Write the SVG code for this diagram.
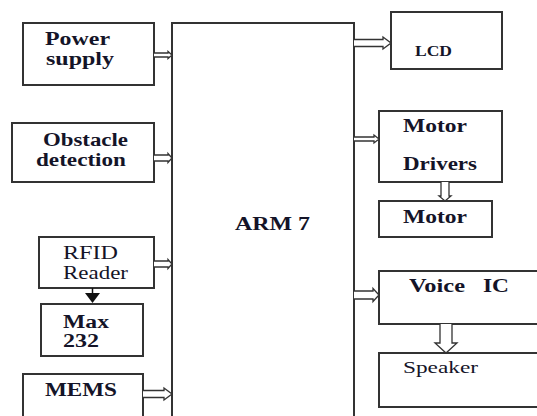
<svg xmlns="http://www.w3.org/2000/svg" width="537" height="416" viewBox="0 0 537 416">
<style>
.box{fill:#fff;stroke:#333;stroke-width:2}
.arr{fill:#fff;stroke:#333;stroke-width:1.3;stroke-linejoin:miter}
.b{font-weight:bold;fill:#141428}
.r{fill:#141428}
</style>
<rect width="537" height="416" fill="#fff"/>
<g font-family="Liberation Serif, Times New Roman, serif">
<g id="arm7"><rect class="box" x="172" y="23" width="182" height="410"/>
<text class="b" x="235" y="230" font-size="18" textLength="75" lengthAdjust="spacingAndGlyphs">ARM 7</text></g>
<g id="power"><rect class="box" x="23" y="23" width="131" height="62"/>
<text class="b" x="45" y="45" font-size="18" textLength="65" lengthAdjust="spacingAndGlyphs">Power</text>
<text class="b" x="46" y="65" font-size="18" textLength="68" lengthAdjust="spacingAndGlyphs">supply</text></g>
<g id="obstacle"><rect class="box" x="12" y="123" width="142" height="59"/>
<text class="b" x="43" y="146" font-size="18" textLength="85" lengthAdjust="spacingAndGlyphs">Obstacle</text>
<text class="b" x="36" y="166" font-size="18" textLength="90" lengthAdjust="spacingAndGlyphs">detection</text></g>
<g id="rfid"><rect class="box" x="39" y="237" width="115" height="51"/>
<text class="r" x="63" y="259" font-size="18" textLength="55" lengthAdjust="spacingAndGlyphs">RFID</text>
<text class="r" x="63" y="279" font-size="18" textLength="65" lengthAdjust="spacingAndGlyphs">Reader</text></g>
<g id="max232"><rect class="box" x="41" y="304" width="102" height="52"/>
<text class="b" x="63" y="328" font-size="18" textLength="46" lengthAdjust="spacingAndGlyphs">Max</text>
<text class="b" x="63" y="347" font-size="18" textLength="36" lengthAdjust="spacingAndGlyphs">232</text></g>
<g id="mems"><rect class="box" x="23" y="374" width="120" height="60"/>
<text class="b" x="45" y="396" font-size="18" textLength="72" lengthAdjust="spacingAndGlyphs">MEMS</text></g>
<g id="lcd"><rect class="box" x="391" y="12" width="111" height="57"/>
<text class="b" x="415" y="56" font-size="14" textLength="37" lengthAdjust="spacingAndGlyphs">LCD</text></g>
<g id="motordrivers"><rect class="box" x="379" y="111" width="123" height="71"/>
<text class="b" x="403" y="132" font-size="18" textLength="64" lengthAdjust="spacingAndGlyphs">Motor</text>
<text class="b" x="403" y="170" font-size="18" textLength="74" lengthAdjust="spacingAndGlyphs">Drivers</text></g>
<g id="motor"><rect class="box" x="379" y="201" width="113" height="36"/>
<text class="b" x="403" y="223" font-size="18" textLength="64" lengthAdjust="spacingAndGlyphs">Motor</text></g>
<g id="voiceic"><rect class="box" x="379" y="271" width="170" height="53"/>
<text class="b" x="409" y="292" font-size="18" textLength="56" lengthAdjust="spacingAndGlyphs">Voice</text>
<text class="b" x="483" y="292" font-size="18" textLength="26" lengthAdjust="spacingAndGlyphs">IC</text></g>
<g id="speaker"><rect class="box" x="379" y="353" width="170" height="54"/>
<text class="r" x="403" y="373" font-size="16" textLength="75" lengthAdjust="spacingAndGlyphs">Speaker</text></g>
</g>
<g id="connectors">
<path class="arr" d="M154,53 H168 V51.5 L172,55 L168,58.5 V57 H154"/>
<path class="arr" d="M154,155 H168 V153.5 L172,158 L168,162.5 V161 H154"/>
<path class="arr" d="M154,261 H168 V259.5 L172,264 L168,268.5 V267 H154"/>
<path class="arr" d="M143,390.5 H164 V388 L172,394 L164,400 V397.5 H143"/>
<path class="arr" d="M354,39.5 H383 V37 L391,43 L383,49 V46.5 H354"/>
<path class="arr" d="M354,137 H374 V135 L379,139 L374,143 V141 H354"/>
<path class="arr" d="M354,291 H373 V288.5 L379,295 L373,301.5 V299 H354"/>
<path class="arr" d="M441,182 V196 H439 L445,201 L451,196 H449 V182"/>
<path class="arr" d="M440,324 V343 H435 L446,353 L457,343 H452 V324"/>
<line x1="92.5" y1="288" x2="92.5" y2="294" stroke="#111" stroke-width="1.5"/>
<polygon points="85,293 100,293 92.5,303" fill="#111"/>
</g>
</svg>
